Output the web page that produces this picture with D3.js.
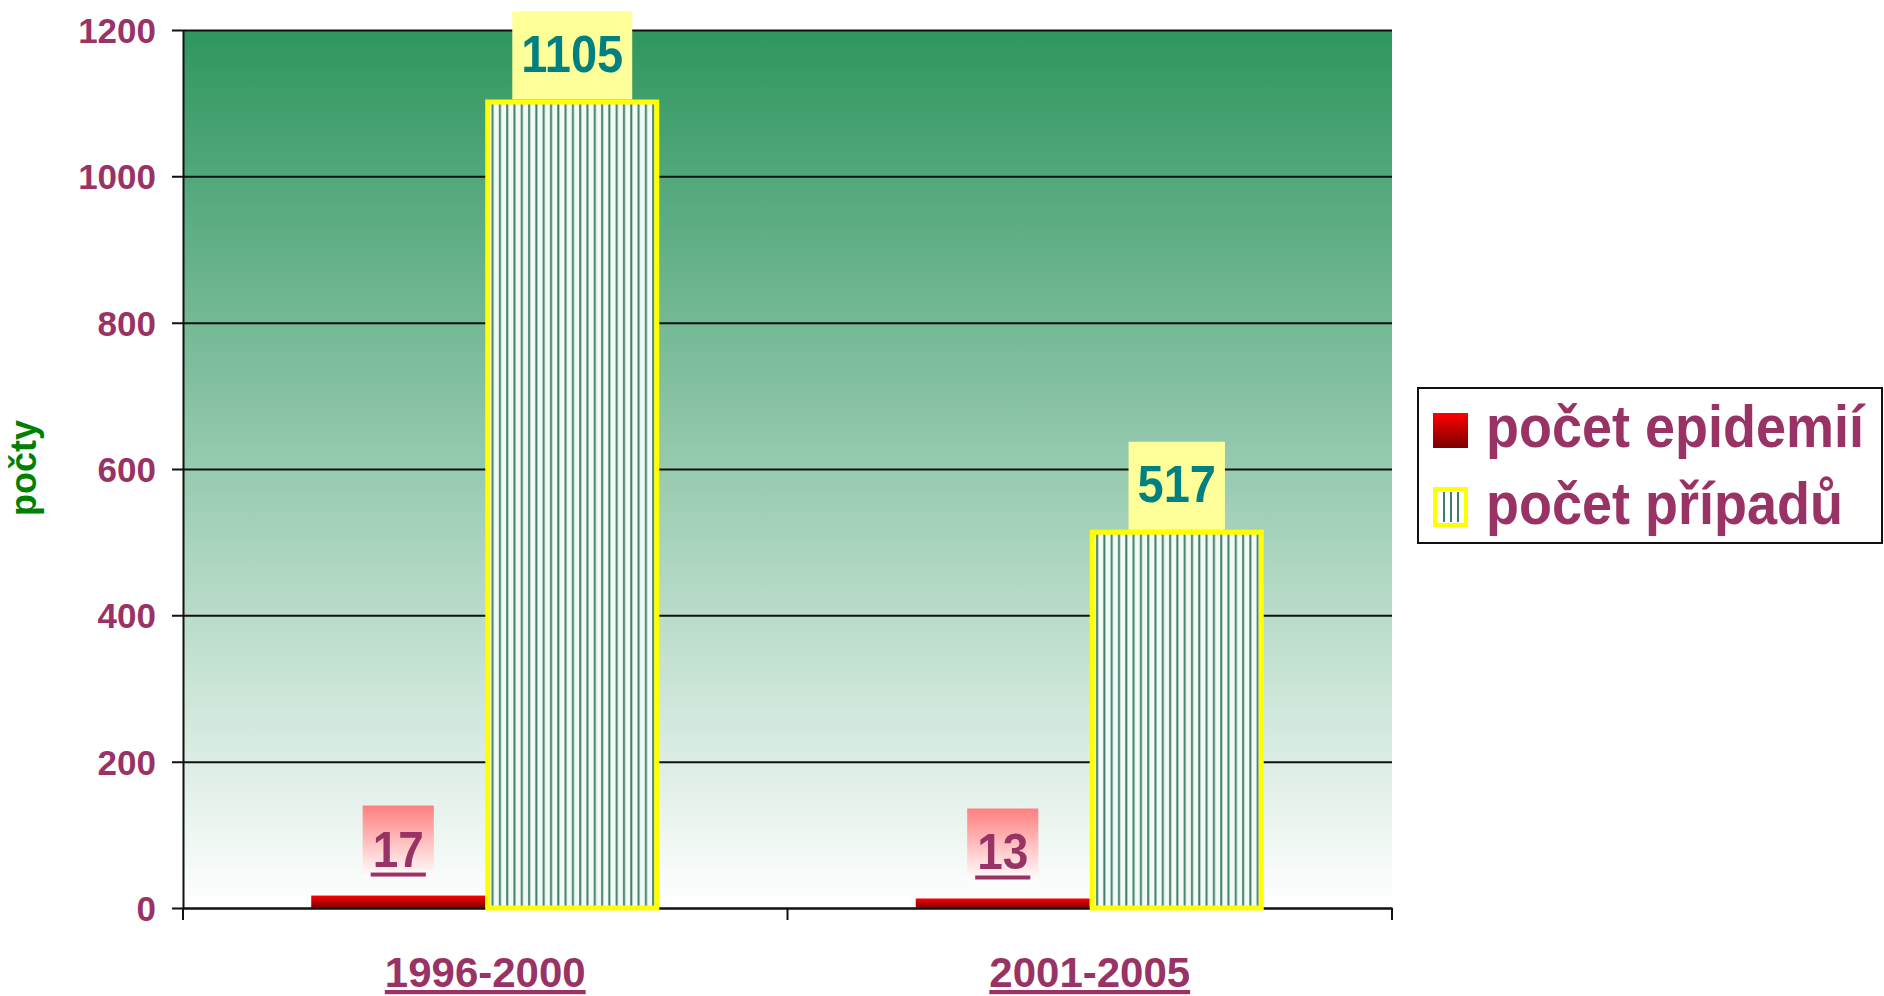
<!DOCTYPE html>
<html>
<head>
<meta charset="utf-8">
<script src="https://cdn.jsdelivr.net/npm/d3@7"></script>
<style>
  body { margin: 0; background: #fff; }
  text { font-family: "Liberation Sans", Arial, sans-serif; font-weight: bold; }
</style>
</head>
<body>
<div id="chart"></div>
<script>
// Data
var categories = ['1996-2000', '2001-2005'];
var seriesNames = ['počet epidemií', 'počet případů'];
var epidemics = [17, 13];
var cases = [1105, 517];
var yTicks = [0, 200, 400, 600, 800, 1000, 1200];

// Setup
var width = 1884, height = 996;
var plot = {left: 183, right: 1392, top: 30, bottom: 908};
var purple = '#993366';
var stretch = 1.1;

var svg = d3.select('#chart')
  .append('svg')
  .attr('width', width)
  .attr('height', height);

var defs = svg.append('defs');

// plot background: dark green fading to white
var bg = defs.append('linearGradient').attr('id', 'bgGrad')
  .attr('x1', 0).attr('y1', 0).attr('x2', 0).attr('y2', 1);
bg.append('stop').attr('offset', '0%').attr('stop-color', '#2f9660');
bg.append('stop').attr('offset', '100%').attr('stop-color', '#ffffff');

var red = defs.append('linearGradient').attr('id', 'redGrad')
  .attr('x1', 0).attr('y1', 0).attr('x2', 0).attr('y2', 1);
red.append('stop').attr('offset', '0%').attr('stop-color', '#ff0000');
red.append('stop').attr('offset', '100%').attr('stop-color', '#7a0000');

var pink = defs.append('linearGradient').attr('id', 'pinkGrad')
  .attr('x1', 0).attr('y1', 0).attr('x2', 0).attr('y2', 1);
pink.append('stop').attr('offset', '0%').attr('stop-color', '#ff7f7f');
pink.append('stop').attr('offset', '100%').attr('stop-color', '#ffffff');

// vertical stripes for the cases bars
var pat = defs.append('pattern').attr('id', 'stripes')
  .attr('patternUnits', 'userSpaceOnUse')
  .attr('width', 7.3).attr('height', 10);
pat.append('rect').attr('width', 7.3).attr('height', 10).attr('fill', '#f2faf6');
pat.append('rect').attr('x', 2).attr('width', 2).attr('height', 10).attr('fill', '#3f7f68');

// Scales
var x0 = d3.scaleBand()
  .domain(categories)
  .range([plot.left, plot.right])
  .padding(0);

var x1 = d3.scaleBand()
  .domain(seriesNames)
  .range([0, x0.bandwidth()])
  .paddingInner(0)
  .paddingOuter(0.737);

var y = d3.scaleLinear()
  .domain([0, 1200])
  .range([plot.bottom, plot.top]);

svg.append('rect')
  .attr('x', plot.left).attr('y', plot.top)
  .attr('width', plot.right - plot.left).attr('height', plot.bottom - plot.top)
  .attr('fill', 'url(#bgGrad)');

// Gridlines + y axis
var yAxis = d3.axisLeft(y)
  .tickValues(yTicks)
  .tickFormat(d3.format('d'))
  .tickSize(-(plot.right - plot.left))
  .tickSizeOuter(0)
  .tickPadding(27);

var gy = svg.append('g')
  .attr('transform', 'translate(' + plot.left + ',0)')
  .call(yAxis);
gy.select('.domain').attr('stroke', '#111').attr('stroke-width', 2);
gy.selectAll('.tick line')
  .attr('x1', -11)
  .attr('stroke', '#111').attr('stroke-width', 2);
gy.selectAll('.tick text')
  .attr('fill', purple)
  .style('font-size', '35px')
  .attr('dy', '0.36em');

// x axis
var xAxis = d3.axisBottom(x0).tickSize(0).tickFormat('');
var gx = svg.append('g')
  .attr('transform', 'translate(0,' + plot.bottom + ')')
  .call(xAxis);
gx.select('.domain').attr('stroke', '#111').attr('stroke-width', 2);
gx.selectAll('.xtick')
  .data([plot.left, x0(categories[1]), plot.right])
  .enter().append('line')
  .attr('x1', function(d){ return d; }).attr('x2', function(d){ return d; })
  .attr('y1', 0).attr('y2', 12)
  .attr('stroke', '#111').attr('stroke-width', 2);

gx.selectAll('.xlabel')
  .data(categories)
  .enter().append('text')
  .attr('class', 'xlabel')
  .attr('text-anchor', 'middle')
  .attr('fill', purple)
  .style('font-size', '42px')
  .style('text-decoration', 'underline')
  .attr('x', function(d){ return x0(d) + x0.bandwidth()/2; })
  .attr('y', 79)
  .text(function(d){ return d; });

// Bars
var groups = svg.selectAll('.group')
  .data(categories)
  .enter().append('g')
  .attr('class', 'group')
  .attr('transform', function(d){ return 'translate(' + x0(d) + ',0)'; });

groups.append('rect')
  .attr('x', x1(seriesNames[0]))
  .attr('y', function(d,i){ return y(epidemics[i]); })
  .attr('width', x1.bandwidth())
  .attr('height', function(d,i){ return y(0) - y(epidemics[i]); })
  .attr('fill', 'url(#redGrad)');

groups.append('rect')
  .attr('x', x1(seriesNames[1]) + 2.5)
  .attr('y', function(d,i){ return y(cases[i]) + 2.5; })
  .attr('width', x1.bandwidth() - 5)
  .attr('height', function(d,i){ return y(0) - y(cases[i]) - 2.5; })
  .attr('fill', 'url(#stripes)')
  .attr('stroke', '#ffff00')
  .attr('stroke-width', 5);

// Value labels
groups.each(function(d,i){
  var g = d3.select(this);

  // cases label: yellow box sitting on the bar
  var cx = x1(seriesNames[1]) + x1.bandwidth()/2;
  var top = y(cases[i]);
  var box = g.append('rect').attr('fill', '#ffff99');
  var t = g.append('text')
    .attr('text-anchor', 'middle')
    .attr('fill', '#008080')
    .style('font-size', '47px')
    .attr('transform', 'translate(' + cx + ',' + (top - 28) + ') scale(1,' + stretch + ')')
    .text(cases[i]);
  var w = t.node().getComputedTextLength() + 18;
  box.attr('x', cx - w/2).attr('y', top - 88).attr('width', w).attr('height', 88);

  // epidemics label: pink fading box above the thin bar
  var ex = x1(seriesNames[0]) + x1.bandwidth()/2;
  var etop = y(epidemics[i]) - 18;
  var ebox = g.append('rect').attr('fill', 'url(#pinkGrad)');
  var et = g.append('text')
    .attr('text-anchor', 'middle')
    .attr('fill', purple)
    .style('font-size', '46px')
    .attr('transform', 'translate(' + ex + ',' + (etop - 11) + ') scale(1,' + stretch + ')')
    .text(epidemics[i]);
  var ew = et.node().getComputedTextLength();
  ebox.attr('x', ex - ew/2 - 10).attr('y', etop - 72).attr('width', ew + 20).attr('height', 72);
  g.append('rect')
    .attr('x', ex - ew/2 - 2).attr('y', etop - 5)
    .attr('width', ew + 4).attr('height', 4)
    .attr('fill', purple);
});

// y axis title
svg.append('text')
  .attr('transform', 'translate(36,468) rotate(-90)')
  .attr('text-anchor', 'middle')
  .attr('fill', '#008000')
  .style('font-size', '36px')
  .text('počty');

// Legend
var legend = svg.append('g').attr('transform', 'translate(1418,388)');
legend.append('rect')
  .attr('width', 464).attr('height', 155)
  .attr('fill', '#fff')
  .attr('stroke', '#111').attr('stroke-width', 2);

legend.append('rect')
  .attr('x', 15).attr('y', 25).attr('width', 35).attr('height', 35)
  .attr('fill', 'url(#redGrad)');
legend.append('rect')
  .attr('x', 17).attr('y', 101).attr('width', 31).attr('height', 36)
  .attr('fill', '#fff')
  .attr('stroke', '#ffff00').attr('stroke-width', 4);
legend.selectAll('.lstripe')
  .data([25, 32, 39])
  .enter().append('rect')
  .attr('x', function(d){ return d; }).attr('y', 104)
  .attr('width', 2).attr('height', 30)
  .attr('fill', '#3f7f68');

legend.selectAll('.ltext')
  .data(seriesNames)
  .enter().append('text')
  .attr('fill', purple)
  .style('font-size', '54px')
  .attr('transform', function(d,i){ return 'translate(68,' + (59 + i*77) + ') scale(1,' + stretch + ')'; })
  .text(function(d){ return d; });
</script>
</body>
</html>
